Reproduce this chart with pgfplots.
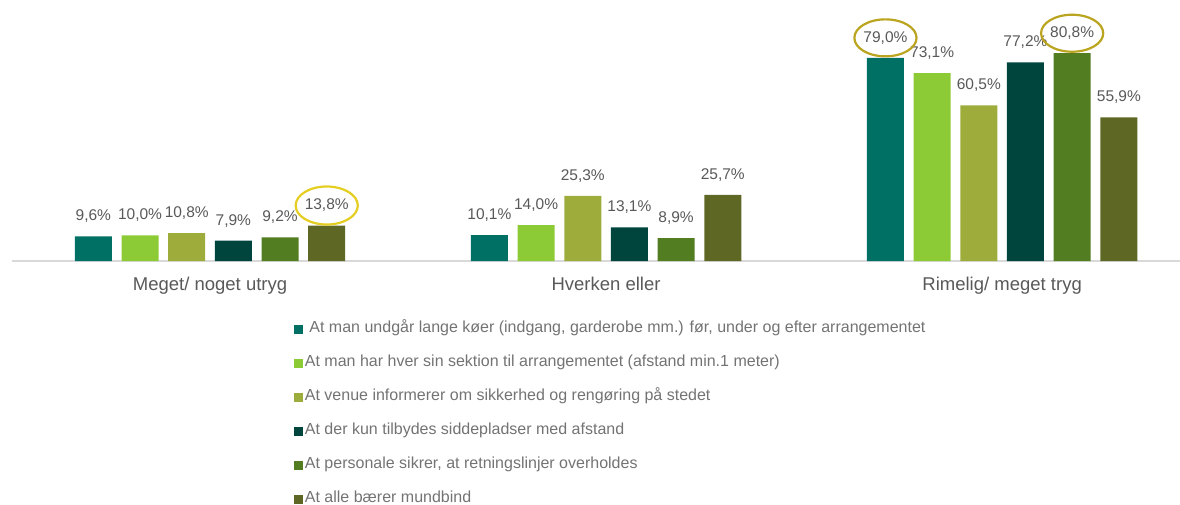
\documentclass[border=0pt]{standalone}
\usepackage{pgfplots}
\pgfplotsset{compat=1.18}
\usepackage{fontspec}
\setmainfont{Liberation Sans}
\usetikzlibrary{shapes.geometric}
\definecolor{c1}{HTML}{007064}
\definecolor{c2}{HTML}{8DCB36}
\definecolor{c3}{HTML}{9DAC3A}
\definecolor{c4}{HTML}{00443E}
\definecolor{c5}{HTML}{527D21}
\definecolor{c6}{HTML}{5E6824}
\definecolor{hlA}{HTML}{E5CE22}
\definecolor{hlB}{HTML}{BBA520}
\definecolor{labgrey}{HTML}{595959}
\definecolor{leggrey}{HTML}{737373}
\definecolor{axisgrey}{HTML}{D9D9D9}
\pgfplotsset{bs/.style={ybar, bar width=37pt, bar shift=#1, every node near coord/.append style={xshift=#1}}}
\begin{document}
\begin{tikzpicture}
\path[use as bounding box] (-12pt,-244pt) rectangle (1168pt,261pt);
\begin{axis}[
  at={(0pt,0pt)}, anchor=south west,
  scale only axis, width=1168pt, height=261pt,
  xmin=-0.5, xmax=2.449, ymin=0, ymax=101.5,
  axis x line*=bottom, axis y line=none,
  x axis line style={draw=axisgrey, line width=1.5pt, -},
  xtick={0,1,2},
  xticklabels={Meget/ noget utryg, Hverken eller, Rimelig/ meget tryg},
  major tick length=0pt,
  xticklabel style={font=\fontsize{18.5}{20}\selectfont, text=labgrey, anchor=base, yshift=-29pt},
  ytick=\empty,
  clip=false,
  nodes near coords={\pgfmathprintnumber[fixed,fixed zerofill,precision=1,use comma,assume math mode=true]{\pgfplotspointmeta}\%},
  every node near coord/.append style={font=\fontsize{15.5}{17}\selectfont, text=labgrey, anchor=center, yshift=20pt, inner sep=0pt},
  legend image code/.code={\fill[#1] (0pt,-4.5pt) rectangle (9pt,4.5pt);},
  legend cell align=left,
  legend style={at={(axis description cs:0.2414,-0.198)}, anchor=north west,
    draw=none, fill=none, inner sep=0pt, outer sep=0pt, row sep=0pt, column sep=2pt,
    font=\fontsize{16}{18}\selectfont, text=leggrey,
    nodes={inner sep=0pt, text height=20pt, text depth=14pt}},
]
\addplot[bs=-116.7pt, fill=c1, draw=none] coordinates {(0,9.6) (1,10.1) (2,79.0)};
\addlegendentry{\hspace{4.5pt}At man undgår lange køer (indgang, garderobe mm.) før, under og efter arrangementet}
\addplot[bs=-70pt, fill=c2, draw=none] coordinates {(0,10.0) (1,14.0) (2,73.1)};
\addlegendentry{At man har hver sin sektion til arrangementet (afstand min.1 meter)}
\addplot[bs=-23.3pt, fill=c3, draw=none] coordinates {(0,10.8) (1,25.3) (2,60.5)};
\addlegendentry{At venue informerer om sikkerhed og rengøring på stedet}
\addplot[bs=23.3pt, fill=c4, draw=none] coordinates {(0,7.9) (1,13.1) (2,77.2)};
\addlegendentry{At der kun tilbydes siddepladser med afstand}
\addplot[bs=70pt, fill=c5, draw=none] coordinates {(0,9.2) (1,8.9) (2,80.8)};
\addlegendentry{At personale sikrer, at retningslinjer overholdes}
\addplot[bs=116.7pt, fill=c6, draw=none] coordinates {(0,13.8) (1,25.7) (2,55.9)};
\addlegendentry{At alle bærer mundbind}
% highlight ellipses
\addplot[bs=116.7pt, fill=none, draw=none, forget plot,
  every node near coord/.append style={draw=hlA, line width=2.2pt, ellipse, minimum width=60pt, minimum height=38pt, text opacity=0}]
  coordinates {(0,13.8)};
\addplot[bs=-116.7pt, fill=none, draw=none, forget plot,
  every node near coord/.append style={draw=hlB, line width=2.2pt, ellipse, minimum width=61pt, minimum height=37pt, text opacity=0}]
  coordinates {(2,79.0)};
\addplot[bs=70pt, fill=none, draw=none, forget plot,
  every node near coord/.append style={draw=hlB, line width=2.2pt, ellipse, minimum width=61pt, minimum height=37pt, text opacity=0}]
  coordinates {(2,80.8)};
\end{axis}
\end{tikzpicture}
\end{document}
